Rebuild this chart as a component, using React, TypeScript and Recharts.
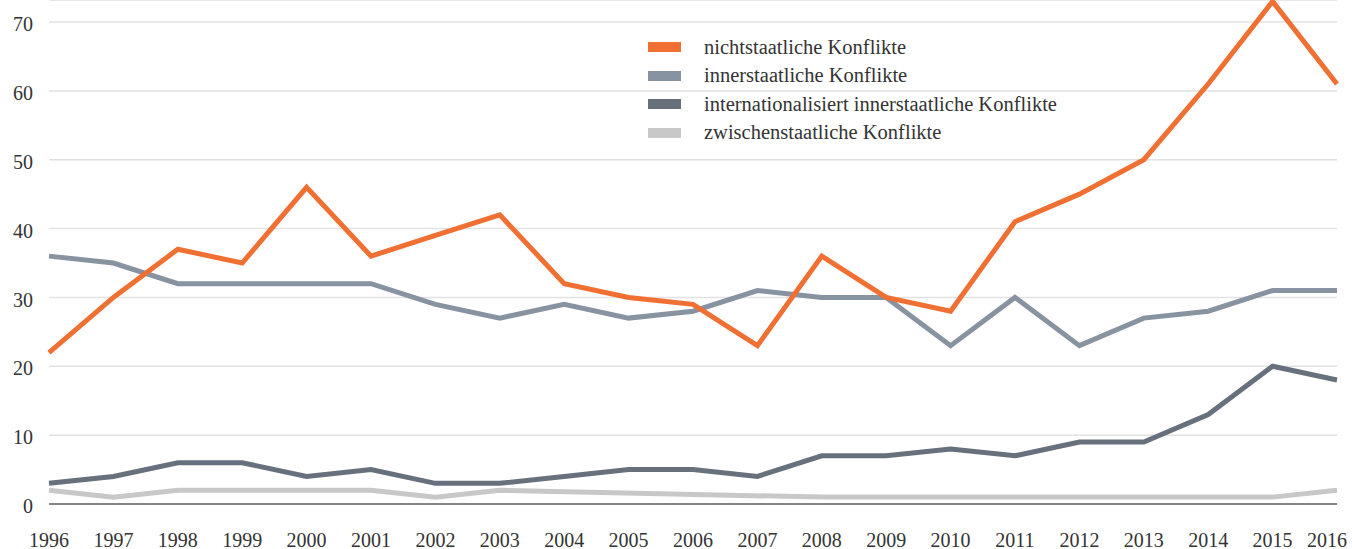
import { LineChart, Line, XAxis, YAxis, CartesianGrid } from "recharts";

const years = [
  "1996", "1997", "1998", "1999", "2000", "2001", "2002", "2003", "2004", "2005", "2006",
  "2007", "2008", "2009", "2010", "2011", "2012", "2013", "2014", "2015", "2016",
];
const nichtstaatlich = [22, 30, 37, 35, 46, 36, 39, 42, 32, 30, 29, 23, 36, 30, 28, 41, 45, 50, 61, 73, 61];
const innerstaatlich = [36, 35, 32, 32, 32, 32, 29, 27, 29, 27, 28, 31, 30, 30, 23, 30, 23, 27, 28, 31, 31];
const internationalisiert = [3, 4, 6, 6, 4, 5, 3, 3, 4, 5, 5, 4, 7, 7, 8, 7, 9, 9, 13, 20, 18];
// 2004-2007 have no value; the line is joined across the gap
const zwischenstaatlich = [2, 1, 2, 2, 2, 2, 1, 2, null, null, null, null, 1, 1, 1, 1, 1, 1, 1, 1, 2];
const yTicks = [0, 10, 20, 30, 40, 50, 60, 70];

const series = [
  { key: "nicht", name: "nichtstaatliche Konflikte", color: "#F07033" },
  { key: "inner", name: "innerstaatliche Konflikte", color: "#8893A2" },
  { key: "intl", name: "internationalisiert innerstaatliche Konflikte", color: "#67717D" },
  { key: "zwischen", name: "zwischenstaatliche Konflikte", color: "#C8C8C8" },
];

const data = years.map((year, i) => ({
  year,
  nicht: nichtstaatlich[i],
  inner: innerstaatlich[i],
  intl: internationalisiert[i],
  zwischen: zwischenstaatlich[i],
}));

const font = "'Liberation Serif', serif";
const CHART_W = 1352;

const ConflictLegend = () => (
  <div
    style={{
      position: "absolute",
      left: 648,
      top: 33,
      fontFamily: font,
      fontSize: 20.5,
      color: "#333",
      whiteSpace: "nowrap",
    }}
  >
    {series.map((s) => (
      <div key={s.key} style={{ display: "flex", alignItems: "center", height: 28.5 }}>
        <span style={{ width: 33, height: 10, background: s.color, marginRight: 23 }} />
        <span>{s.name}</span>
      </div>
    ))}
  </div>
);

// last year label is pulled in so it stays inside the picture
const YearTick = (props: any) => {
  const { x, y, payload } = props;
  const last = payload.value === years[years.length - 1];
  return (
    <text
      x={last ? CHART_W - 5 : x}
      y={y}
      dy="0.71em"
      textAnchor={last ? "end" : "middle"}
      fontFamily={font}
      fontSize={20}
      fill="#333"
    >
      {payload.value}
    </text>
  );
};

const App = () => {
  return (
    <div style={{ position: "absolute", left: 0, top: 0 }}>
      <LineChart
        width={CHART_W}
        height={549}
        data={data}
        margin={{ top: 0, right: 15, left: 0, bottom: 0 }}
      >
        <CartesianGrid vertical={false} stroke="#e2e2e2" strokeWidth={1.5} />
        <XAxis
          dataKey="year"
          height={45}
          tickLine={false}
          tickSize={0}
          tickMargin={29}
          axisLine={{ stroke: "#222", strokeWidth: 1.2 }}
          tick={<YearTick />}
          interval={0}
        />
        <YAxis
          width={49}
          domain={[0, 73.2]}
          ticks={yTicks}
          allowDataOverflow
          axisLine={false}
          tickLine={false}
          tickSize={0}
          tickMargin={16}
          tick={{ fontFamily: font, fontSize: 20, fill: "#333", dy: 2 }}
        />
        <Line dataKey="zwischen" stroke="#C8C8C8" strokeWidth={5} dot={false} connectNulls isAnimationActive={false} />
        <Line dataKey="intl" stroke="#67717D" strokeWidth={5} dot={false} isAnimationActive={false} />
        <Line dataKey="inner" stroke="#8893A2" strokeWidth={5} dot={false} isAnimationActive={false} />
        <Line dataKey="nicht" stroke="#F07033" strokeWidth={5} dot={false} isAnimationActive={false} />
      </LineChart>
      <ConflictLegend />
    </div>
  );
};

export default App;
